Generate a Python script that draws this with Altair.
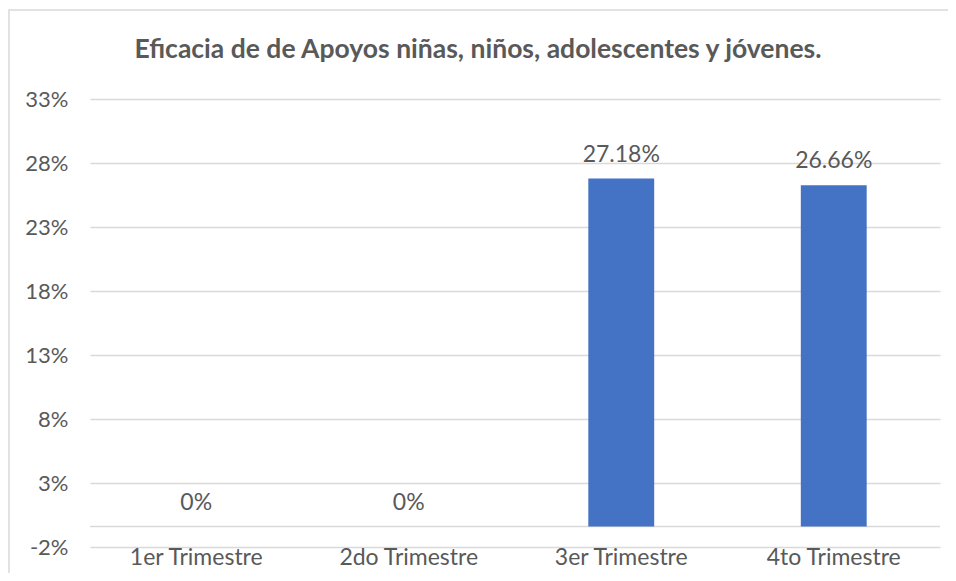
import altair as alt
import pandas as pd

categories = ["1er Trimestre", "2do Trimestre", "3er Trimestre", "4to Trimestre"]
values = [0, 0, 27.18, 26.66]
tick_values = [-1.6, 3.4, 8.4, 13.4, 18.4, 23.4, 28.4, 33.4]
title_text = "Eficacia de de Apoyos niñas, niños, adolescentes y jóvenes."

df = pd.DataFrame({"cat": categories, "val": values})

FONT = "Lato"
GRAY = "#595959"
GRID = "#d9d9d9"
W, H = 850, 448

x_enc = alt.X("cat:N", sort=categories, title=None,
              scale=alt.Scale(paddingInner=0.69, paddingOuter=0.345),
              axis=alt.Axis(labelAngle=0, domain=False, ticks=False, labelPadding=-1,
                            labelFontSize=23, labelColor=GRAY, labelFont=FONT, grid=False))
y_scale = alt.Scale(domain=[-1.6, 33.4], nice=False, zero=False)

base = alt.Chart(df)

bars = base.mark_bar(color="#4472C4").encode(
    x=x_enc,
    y=alt.Y("val:Q", scale=y_scale, title=None,
            axis=alt.Axis(values=tick_values, labelExpr="round(datum.value) + '%'",
                          domain=False, ticks=False, labelPadding=22, labelFontSize=22,
                          labelColor=GRAY, labelFont=FONT, grid=True, gridColor=GRID,
                          gridWidth=1.3)),
    y2=alt.datum(0),
)

labels = base.transform_calculate(
    lab="datum.val == 0 ? '0%' : format(datum.val, '.2f') + '%'"
).mark_text(baseline="bottom", dy=-12, fontSize=23, color=GRAY, font=FONT).encode(
    x=alt.X("cat:N", sort=categories),
    y=alt.Y("val:Q", scale=y_scale),
    text="lab:N",
)

zero_rule = alt.Chart(pd.DataFrame({"z": [0]})).mark_rule(color=GRID, strokeWidth=1.3).encode(
    y=alt.Y("z:Q", scale=y_scale)
)

one = pd.DataFrame({"a": [0]})
border = alt.Chart(one).mark_rect(
    fill="transparent", stroke=GRID, strokeWidth=1.5, clip=False
).encode(
    x=alt.value(-81), x2=alt.value(W + 40),
    y=alt.value(-89), y2=alt.value(H + 60),
)

title = alt.Chart(one).mark_text(
    font=FONT, fontSize=26.5, fontWeight="bold", color=GRAY, baseline="alphabetic", align="center"
).encode(x=alt.value(388), y=alt.value(-41), text=alt.value(title_text))

chart = alt.layer(border, zero_rule, bars, labels, title).properties(
    width=W, height=H,
    autosize=alt.AutoSizeParams(type="none"),
    padding={"left": 82, "top": 91, "right": 8, "bottom": 26},
    background="white",
).configure_view(stroke="transparent", strokeWidth=0)

chart.save("out.html", embed_options={"renderer": "svg", "actions": False})
